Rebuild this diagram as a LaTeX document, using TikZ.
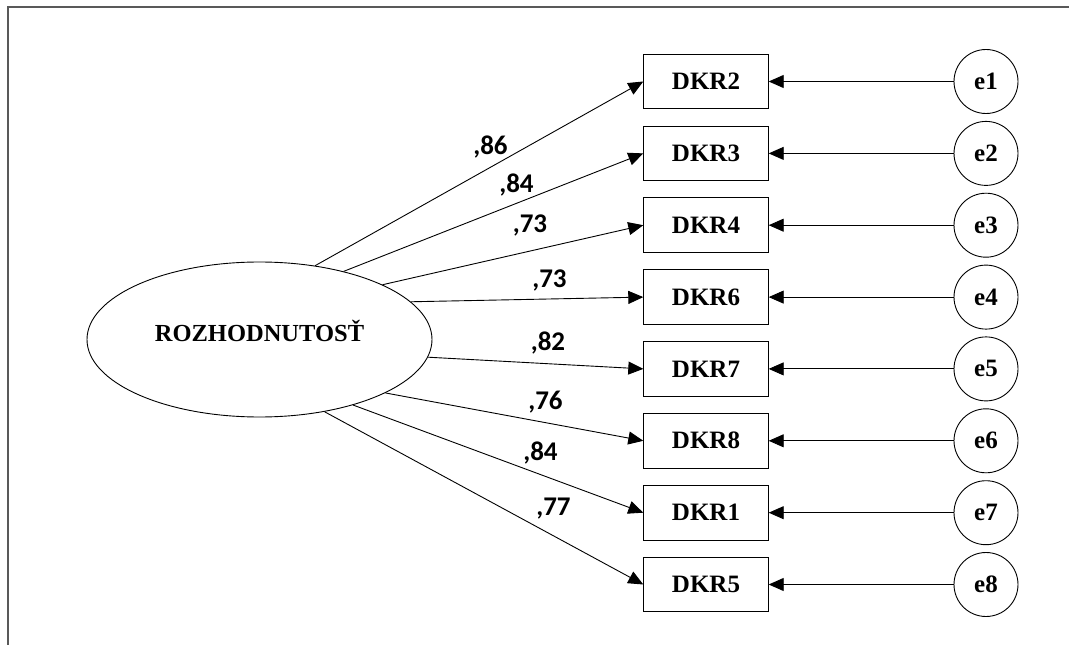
\documentclass[tikz,border=0pt]{standalone}
\usepackage{fontspec}
\setmainfont{Liberation Serif}
\newfontfamily\numfont{Carlito}
\usetikzlibrary{arrows.meta,shapes.geometric}

\begin{document}
\begin{tikzpicture}[x=1pt,y=-1pt,line width=0.9pt,
  every node/.style={inner sep=0pt},
  latent/.style={draw, ellipse, minimum width=345pt, minimum height=155pt,
    font=\fontsize{24.5}{29}\selectfont\bfseries, text height=22pt, text depth=18pt},
  item/.style={draw, rectangle, minimum width=124.5pt, minimum height=54.5pt,
    font=\fontsize{25}{30}\selectfont\bfseries},
  err/.style={draw, circle, minimum size=64pt,
    font=\fontsize{25}{30}\selectfont\bfseries},
  coef/.style={anchor=base, font=\numfont\bfseries\fontsize{27}{32}\selectfont},
  path/.style={-{Triangle[length=15pt,width=13pt]}}]
\useasboundingbox (0,0) rectangle (1069,647);
% frame (cut off at bottom and right)
\draw [black!65, line width=1.6pt] (1069,7) -- (8,7) -- (8,645);

% latent factor
\node [latent] (rozh) at (259.5,339.5) {ROZHODNUTOSŤ};

% indicators
\node [item] (dkr2) at (706,81.5) {DKR2};
\node [item] (dkr3) at (706,153.4) {DKR3};
\node [item] (dkr4) at (706,225.2) {DKR4};
\node [item] (dkr6) at (706,297.1) {DKR6};
\node [item] (dkr7) at (706,368.9) {DKR7};
\node [item] (dkr8) at (706,440.8) {DKR8};
\node [item] (dkr1) at (706,512.7) {DKR1};
\node [item] (dkr5) at (706,584.5) {DKR5};

% errors
\node [err] (e1) at (986,81.5) {e1};
\node [err] (e2) at (986,153.4) {e2};
\node [err] (e3) at (986,225.2) {e3};
\node [err] (e4) at (986,297.1) {e4};
\node [err] (e5) at (986,368.9) {e5};
\node [err] (e6) at (986,440.8) {e6};
\node [err] (e7) at (986,512.7) {e7};
\node [err] (e8) at (986,584.5) {e8};

% loadings
\draw [path] (rozh.53.6) -- (dkr2.west);
\draw [path] (rozh.39.7) -- (dkr3.west);
\draw [path] (rozh.24.8) -- (dkr4.west);
\draw [path] (rozh.14.7) -- (dkr6.west);
\draw [path] (rozh.-6.3) -- (dkr7.west);
\draw [path] (rozh.-23.4) -- (dkr8.west);
\draw [path] (rozh.-35.3) -- (dkr1.west);
\draw [path] (rozh.-48.3) -- (dkr5.west);

\node [coef] (l2) at (490.5,155) {,86};
\node [coef] (l3) at (516.5,193) {,84};
\node [coef] (l4) at (530,233) {,73};
\node [coef] (l6) at (549.5,288) {,73};
\node [coef] (l7) at (548,350) {,82};
\node [coef] (l8) at (545.5,409) {,76};
\node [coef] (l1) at (540.5,460) {,84};
\node [coef] (l5) at (553.5,515) {,77};

% error paths
\draw [path] (e1) -- (dkr2);
\draw [path] (e2) -- (dkr3);
\draw [path] (e3) -- (dkr4);
\draw [path] (e4) -- (dkr6);
\draw [path] (e5) -- (dkr7);
\draw [path] (e6) -- (dkr8);
\draw [path] (e7) -- (dkr1);
\draw [path] (e8) -- (dkr5);
\end{tikzpicture}
\end{document}
